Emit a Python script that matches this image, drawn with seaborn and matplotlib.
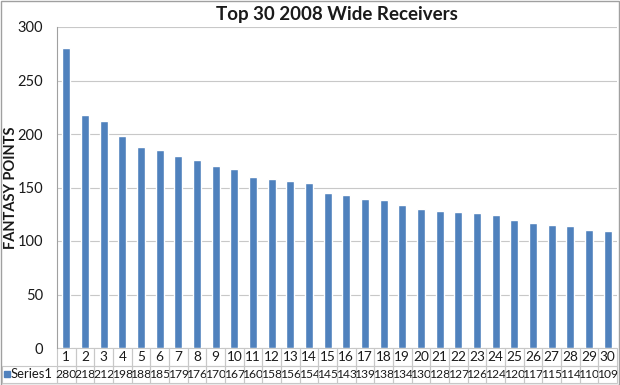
import pandas as pd
import matplotlib.pyplot as plt
import seaborn as sns
from matplotlib.patches import Rectangle

ranks = list(range(1, 31))
points = [280, 218, 212, 198, 188, 185, 179, 176, 170, 167,
          160, 158, 156, 154, 145, 143, 139, 138, 134, 130,
          128, 127, 126, 124, 120, 117, 115, 114, 110, 109]
series_name = "Series1"
title = "Top 30 2008 Wide Receivers"
ylabel = "FANTASY POINTS"
yticks = [0, 50, 100, 150, 200, 250, 300]

bar_color = "#4F81BD"
grid_color = "#C8C8C8"
text_color = "#1A1A1A"

sns.set_style("white")
plt.rcParams["font.family"] = ["Lato", "DejaVu Sans"]

df = pd.DataFrame({"rank": ranks, "points": points})

W, H = 620, 385
fig = plt.figure(figsize=(W / 100, H / 100), dpi=100)
ax_left, ax_right, ax_top, ax_bottom = 57, 617, 27, 348
ax = fig.add_axes([ax_left / W, 1 - ax_bottom / H,
                   (ax_right - ax_left) / W, (ax_bottom - ax_top) / H])

sns.barplot(data=df, x="rank", y="points", color=bar_color, width=0.42,
            saturation=1, ax=ax, zorder=3)

axw = ax_right - ax_left
axh = ax_bottom - ax_top

ax.set_ylim(0, 300)
ax.set_xlim(-0.5, len(ranks) - 0.5)
ax.set_yticks(yticks)
ax.set_yticklabels([str(v) for v in yticks], fontsize=10.5, color=text_color)
ax.tick_params(axis="y", length=4, width=0.8, color="#A0A0A0", pad=6)
ax.set_xticks([])
ax.set_xlabel("")
ax.set_ylabel(ylabel, fontsize=10.5, fontweight="bold", color=text_color)
ax.yaxis.set_label_coords(-39 / axw, 0.5)
ax.set_title(title, fontsize=13.5, fontweight="bold", color=text_color, pad=5)
ax.yaxis.grid(True, color=grid_color, linewidth=0.8, zorder=0)
ax.set_axisbelow(True)
for side in ["top", "right", "bottom"]:
    ax.spines[side].set_visible(False)
ax.spines["left"].set_color("#A0A0A0")
ax.spines["left"].set_linewidth(0.8)

# Data table below the plot
label_w = 55 / axw
table_h = 35 / axh
cell_text = [[""] + [str(r) for r in ranks],
             [series_name] + [str(p) for p in points]]
col_widths = [label_w] + [1 / len(ranks)] * len(ranks)
tbl = ax.table(cellText=cell_text, colWidths=col_widths, cellLoc="center",
               bbox=[-label_w, -table_h, 1 + label_w, table_h])
tbl.auto_set_font_size(False)
for (r, c), cell in tbl.get_celld().items():
    cell.set_edgecolor("#C8C8C8")
    cell.set_facecolor("none")
    cell.set_linewidth(0.8)
    txt = cell.get_text()
    txt.set_color(text_color)
    txt.set_fontsize(9.8 if r == 0 else 8.7)
    txt.set_clip_on(False)
    if c == 0:
        txt.set_ha("left")
        txt.set_fontsize(9.4)
        cell._loc = "left"
        cell.PAD = 9 / 55
    if r == 0 and c == 0:
        cell.visible_edges = ""

# legend key in the table row label
ax.add_patch(Rectangle((-label_w + 1.5 / axw, -table_h + 6 / axh), 6 / axw, 6 / axh,
                       transform=ax.transAxes, color=bar_color, clip_on=False))

# chart area border
fig.patches.append(Rectangle((0.5 / W, 0.5 / H), 1 - 1.5 / W, 1 - 1.5 / H,
                             transform=fig.transFigure, fill=False,
                             edgecolor="#A0A0A0", linewidth=1))

fig.savefig("out.png", dpi=100)
